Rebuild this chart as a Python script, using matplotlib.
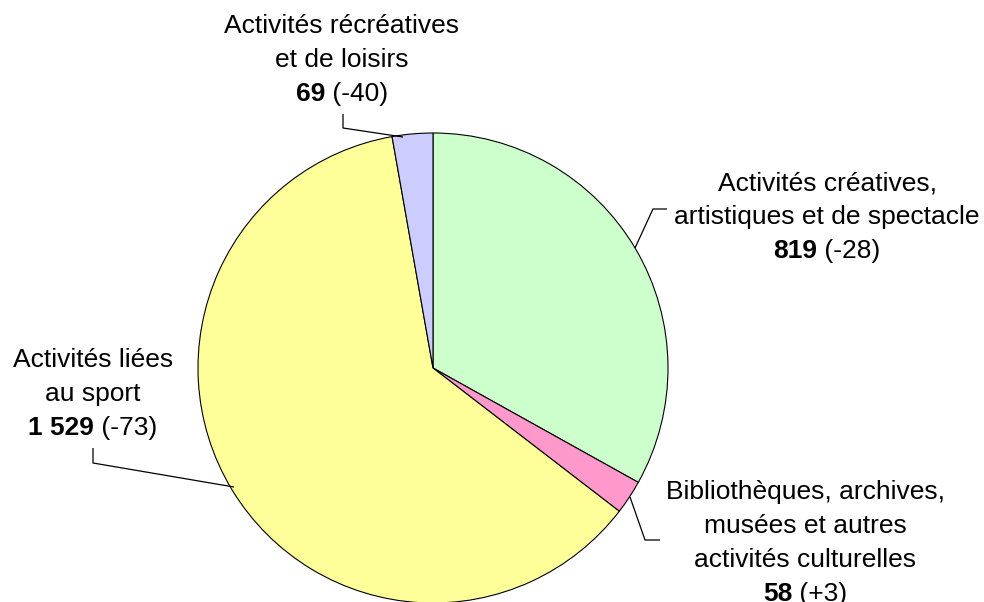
import matplotlib
matplotlib.use("Agg")
import matplotlib.pyplot as plt

# Data
categories = ["Activités créatives,\nartistiques et de spectacle",
              "Bibliothèques, archives,\nmusées et autres\nactivités culturelles",
              "Activités liées\nau sport",
              "Activités récréatives\net de loisirs"]
values = [819, 58, 1529, 69]
value_labels = ["819", "58", "1 529", "69"]
changes = ["(-28)", "(+3)", "(-73)", "(-40)"]
colors = ["#CCFFCC", "#FF99CC", "#FFFF99", "#CCCCFF"]

W, H = 984, 602
fig = plt.figure(figsize=(W / 100, H / 100), dpi=100)
ax = fig.add_axes([0, 0, 1, 1])

def Y(y):
    return H - y

ax.pie(values, colors=colors, startangle=90, counterclock=False,
       center=(433, Y(368)), radius=235,
       wedgeprops=dict(edgecolor="black", linewidth=0.8))
ax.set_xlim(0, W)
ax.set_ylim(0, H)
ax.set_aspect("equal")
ax.axis("off")

FONT = "Liberation Sans"
FS = 19
line_h = 34

# label layout: (center x, first baseline y) in pixels
label_pos = [(827, 190), (805, 499), (93, 367), (342, 33)]
leaders = [
    [(635, 248), (653, 209), (667, 209)],
    [(630, 497), (645, 540), (660, 540)],
    [(234, 487), (93, 463), (93, 448)],
    [(403, 137), (343, 128), (343, 114)],
]

fig.canvas.draw()
renderer = fig.canvas.get_renderer()

def text_width(s, weight):
    t = ax.text(0, 0, s, fontsize=FS, family=FONT, fontweight=weight)
    bb = t.get_window_extent(renderer=renderer)
    t.remove()
    return bb.width

for cat, vl, ch, (cx, y0), pts in zip(categories, value_labels, changes, label_pos, leaders):
    lines = cat.split("\n")
    for i, ln in enumerate(lines):
        ax.text(cx, Y(y0 + i * line_h), ln, fontsize=FS, family=FONT,
                ha="center", va="baseline", color="black")
    yv = y0 + len(lines) * line_h
    wb = text_width(vl, "bold")
    wn = text_width(" " + ch, "normal")
    left = cx - (wb + wn) / 2
    ax.text(left, Y(yv), vl, fontsize=FS, family=FONT, fontweight="bold",
            ha="left", va="baseline", color="black")
    ax.text(left + wb, Y(yv), " " + ch, fontsize=FS, family=FONT,
            ha="left", va="baseline", color="black")
    xs = [p[0] for p in pts]
    ys = [Y(p[1]) for p in pts]
    ax.plot(xs, ys, color="black", linewidth=0.9, solid_capstyle="butt")

fig.savefig("out.png", dpi=100, facecolor="white")
